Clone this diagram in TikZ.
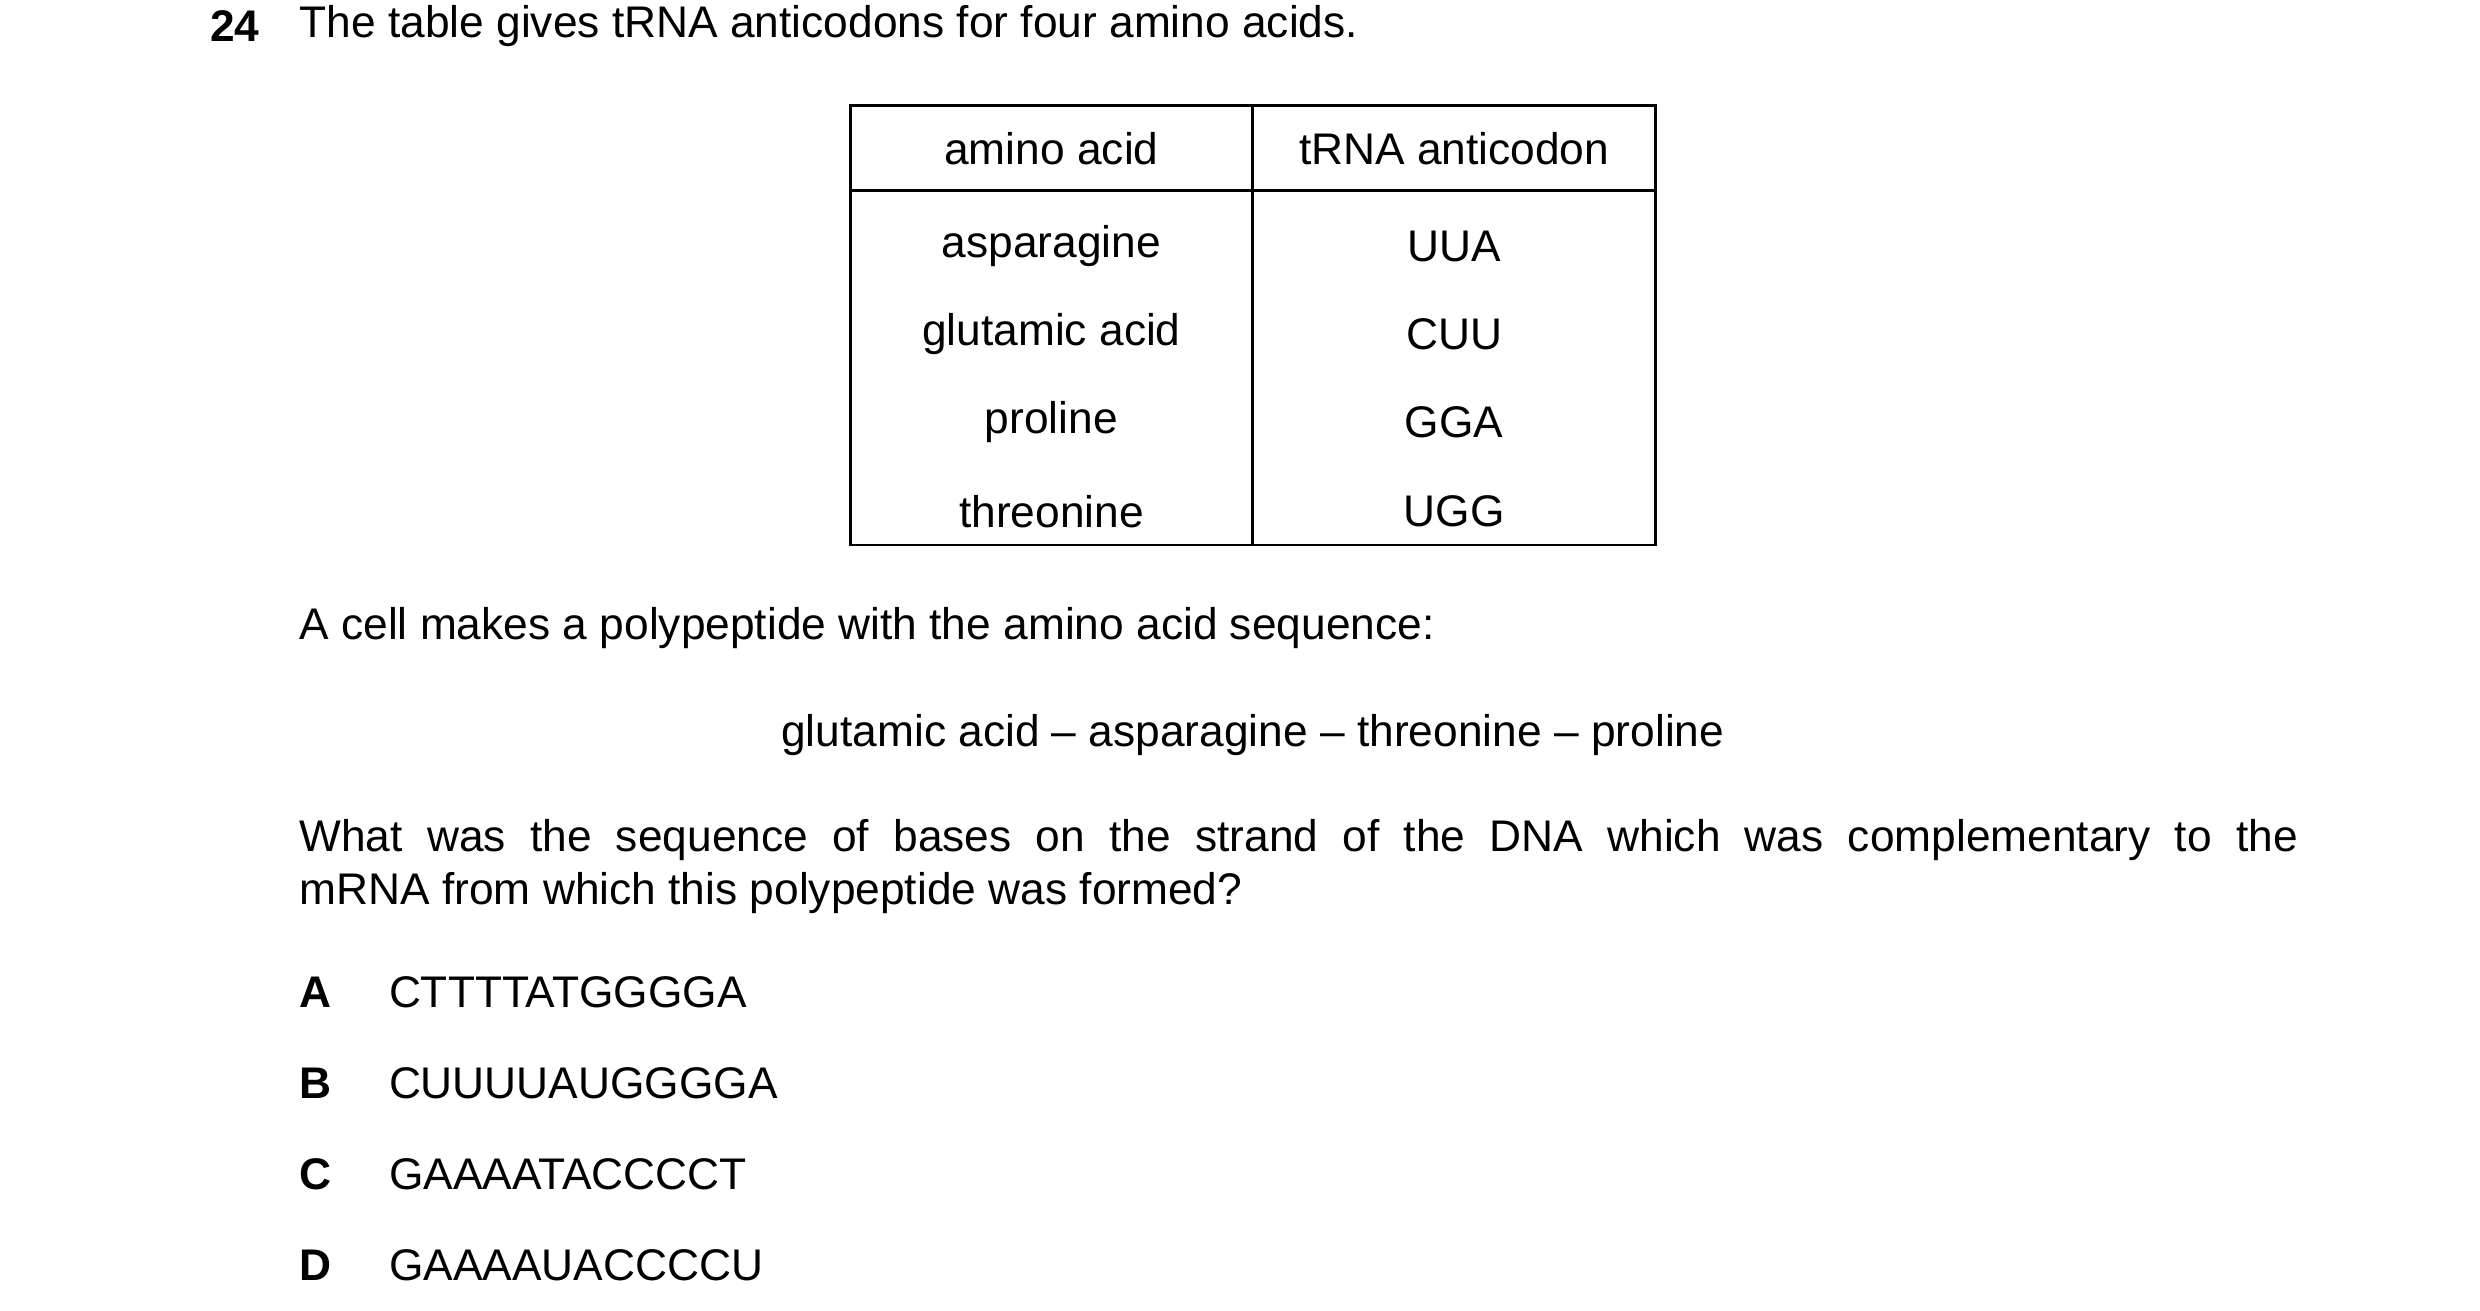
\documentclass[tikz,border=0pt]{standalone}
\usepackage{fontspec}
\setmainfont{Liberation Sans}
\usetikzlibrary{positioning}
\begin{document}
\begin{tikzpicture}[x=0.01598cm,y=-0.01598cm]
	\tikzset{txt/.style = {inner sep=0pt, anchor=west, font=\fontsize{12.6}{15}\selectfont}}
	\tikzset{cell/.style = {inner sep=0pt, font=\fontsize{12.6}{15}\selectfont}}
	\tikzset{rule/.style = {line width=0.8pt}}
	\useasboundingbox (0,0) rectangle (1552,820);
	
	% question
	\node[txt, font=\fontsize{12.6}{15}\selectfont\bfseries] (num) at (131,16) {24};
	\node[txt] (intro) at (187,16) {The table gives tRNA anticodons for four amino acids.};
	
	% table
	\coordinate (tl) at (532,66);
	\coordinate (br) at (1036,341);
	\draw[rule] (tl) rectangle (br);
	\draw[rule] (784,66) -- (784,341);
	\draw[rule] (532,119) -- (1036,119);
	\node[cell] (h1) at (658,93) {amino acid};
	\node[cell] (h2) at (910,93) {tRNA anticodon};
	\foreach \aa/\ac/\y in {asparagine/UUA/154, glutamic acid/CUU/209, proline/GGA/264, threonine/UGG/320}
	{
		\node[cell] at (658,\y) {\aa};
		\node[cell] at (910,\y) {\ac};
	}
	
	% text
	\node[txt] (cell) at (187,393) {A cell makes a polypeptide with the amino acid sequence:};
	\node[cell] (seq) at (784,460) {glutamic acid -- asparagine -- threonine -- proline};
	\node[txt, text width=19.98cm, align=justify] (ask) at (187,526)
		{\parfillskip=0pt What was the sequence of bases on the strand of the DNA which was complementary to the\par};
	\node[txt] (ask2) at (187,559) {mRNA from which this polypeptide was formed?};
	
	% options
	\foreach \l/\s/\y in {A/CTTTTATGGGGA/621, B/CUUUUAUGGGGA/678, C/GAAAATACCCCT/735, D/GAAAAUACCCCU/792}
	{
		\node[txt, font=\fontsize{12.6}{15}\selectfont\bfseries] at (187,\y) {\l};
		\node[txt] at (243,\y) {\s};
	}
\end{tikzpicture}
\end{document}
